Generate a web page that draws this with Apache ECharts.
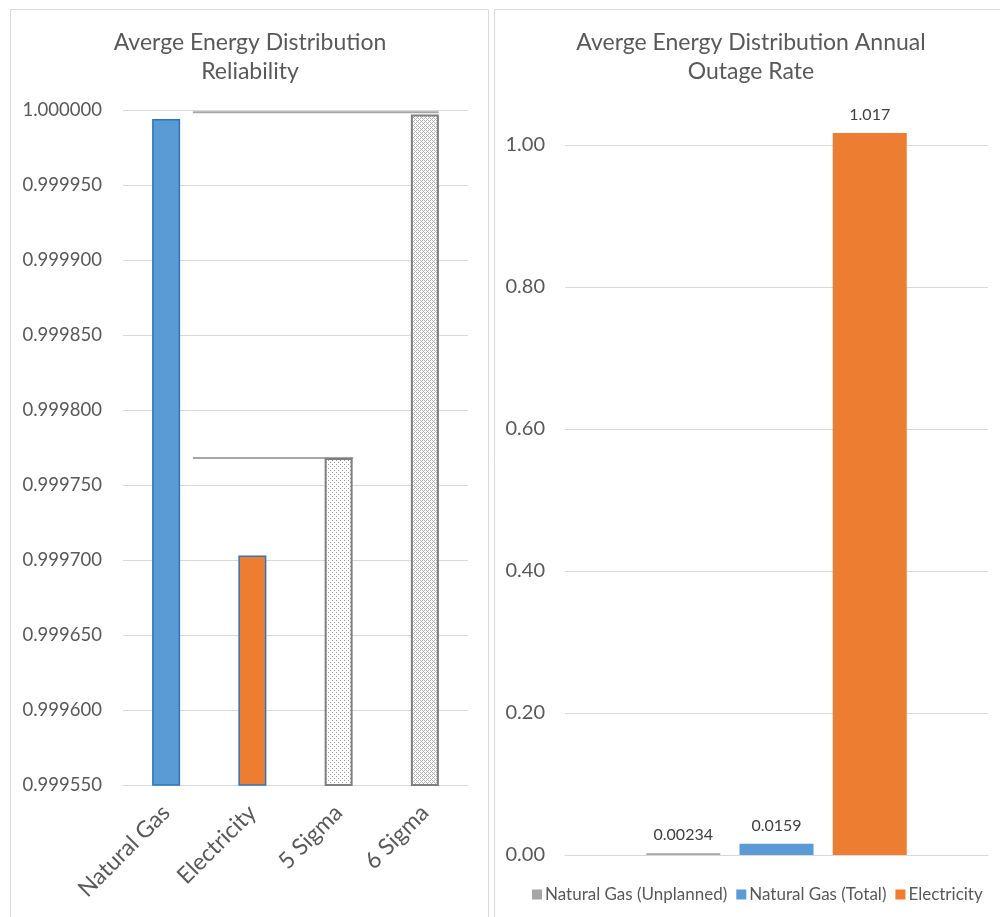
<!DOCTYPE html>
<html>
<head>
<meta charset="utf-8">
<script src="https://cdn.jsdelivr.net/npm/echarts@6/dist/echarts.min.js"></script>
<style>
  html, body { margin: 0; padding: 0; background: #fff; }
  #chart { width: 1000px; height: 917px; }
</style>
</head>
<body>
<div id="chart"></div>
<script>
// left panel: reliability
const reliabilityCategories = ['Natural Gas', 'Electricity', '5 Sigma', '6 Sigma']
const reliabilityValues = [0.999994, 0.999703, 0.999768, 0.999997]
// horizontal reference lines, x extents in category units (0..4)
const sigmaLineValues = [0.9999985, 0.999768]
const sigmaLineStarts = [0.81, 0.81]
const sigmaLineEnds = [3.66, 2.67]

// right panel: annual outage rate
const outageSeries = ['Natural Gas (Unplanned)', 'Natural Gas (Total)', 'Electricity']
const outageValues = [0.00234, 0.0159, 1.017]
const outageColors = ['#A5A5A5', '#5B9BD5', '#ED7D31']

const FONT = 'Lato, "Open Sans", sans-serif'
const TEXT = '#595959'
const GRID_LINE = '#D9D9D9'

function dotPattern(size, dots, color) {
  const c = document.createElement('canvas')
  c.width = size
  c.height = size
  const ctx = c.getContext('2d')
  ctx.fillStyle = '#fff'
  ctx.fillRect(0, 0, size, size)
  ctx.fillStyle = color
  dots.forEach(([x, y]) => ctx.fillRect(x, y, 1, 1))
  return c
}

const sparseDots = dotPattern(4, [[0, 0], [2, 2]], '#9a9a9a')
const denseDots = dotPattern(4, [[0, 0], [2, 0], [1, 1], [0, 2], [2, 2], [3, 3]], '#b4b4b4')

const barStyles = [
  { color: '#5B9BD5', borderColor: '#2E75B6', borderWidth: 1.5 },
  { color: '#ED7D31', borderColor: '#2E75B6', borderWidth: 1.5 },
  { color: { image: sparseDots, repeat: 'repeat' }, borderColor: '#7F7F7F', borderWidth: 2 },
  { color: { image: denseDots, repeat: 'repeat' }, borderColor: '#7F7F7F', borderWidth: 2 },
]

const chart = echarts.init(document.getElementById('chart'), undefined, { renderer: 'canvas' })

const titleStyle = { color: TEXT, fontSize: 23, fontWeight: 'normal', fontFamily: FONT, lineHeight: 29 }

const sigmaLines = sigmaLineValues.map((v, i) => ({
  type: 'line',
  xAxisIndex: 1,
  yAxisIndex: 0,
  data: [[sigmaLineStarts[i], v], [sigmaLineEnds[i], v]],
  symbol: 'none',
  silent: true,
  lineStyle: { color: '#A6A6A6', width: 2 },
  z: 1,
}))

const option = {
  backgroundColor: '#fff',
  animation: false,
  graphic: [
    { type: 'rect', shape: { x: 10.5, y: 9.5, width: 478, height: 1000 }, style: { fill: 'none', stroke: GRID_LINE, lineWidth: 1 } },
    { type: 'rect', shape: { x: 494.5, y: 9.5, width: 520, height: 1000 }, style: { fill: 'none', stroke: GRID_LINE, lineWidth: 1 } },
  ],
  title: [
    { text: 'Averge Energy Distribution\nReliability', left: 245, top: 23, textAlign: 'center', textStyle: titleStyle },
    { text: 'Averge Energy Distribution Annual\nOutage Rate', left: 746, top: 23, textAlign: 'center', textStyle: titleStyle },
  ],
  legend: {
    data: outageSeries,
    left: 527,
    top: 881,
    icon: 'rect',
    itemWidth: 10,
    itemHeight: 10,
    itemGap: 9,
    textStyle: { color: TEXT, fontSize: 17, fontFamily: FONT, padding: [0, 0, 0, -2] },
  },
  grid: [
    { left: 123, top: 110, width: 345, height: 675 },
    { left: 565, top: 145, width: 423, height: 710 },
  ],
  xAxis: [
    {
      type: 'category',
      gridIndex: 0,
      data: reliabilityCategories,
      axisLine: { lineStyle: { color: GRID_LINE } },
      axisTick: { show: false },
      axisLabel: { rotate: 45, color: TEXT, fontSize: 23, fontFamily: FONT, margin: 24, interval: 0 },
    },
    { type: 'value', gridIndex: 0, min: 0, max: 4, show: false },
    {
      type: 'category',
      gridIndex: 1,
      data: [''],
      axisLine: { lineStyle: { color: GRID_LINE } },
      axisTick: { show: false },
      axisLabel: { show: false },
    },
  ],
  yAxis: [
    {
      type: 'value',
      gridIndex: 0,
      min: 0.99955,
      max: 1.0,
      interval: 0.00005,
      axisLine: { show: false },
      axisTick: { show: false },
      splitLine: { lineStyle: { color: GRID_LINE } },
      axisLabel: { color: TEXT, fontSize: 18.5, fontFamily: FONT, margin: 21, formatter: v => v.toFixed(6) },
    },
    {
      type: 'value',
      gridIndex: 1,
      min: 0,
      max: 1,
      interval: 0.2,
      axisLine: { show: false },
      axisTick: { show: false },
      splitLine: { lineStyle: { color: GRID_LINE } },
      axisLabel: { color: TEXT, fontSize: 20, fontFamily: FONT, margin: 20, formatter: v => v.toFixed(2) },
    },
  ],
  series: [
    {
      type: 'bar',
      xAxisIndex: 0,
      yAxisIndex: 0,
      barWidth: 28,
      data: reliabilityValues.map((v, i) => ({ value: v, itemStyle: barStyles[i] })),
      z: 2,
    },
    ...sigmaLines,
    ...outageSeries.map((name, i) => ({
      name,
      type: 'bar',
      xAxisIndex: 2,
      yAxisIndex: 1,
      barWidth: 74,
      barGap: '26%',
      clip: false,
      data: [outageValues[i]],
      itemStyle: { color: outageColors[i] },
      label: { show: true, position: 'top', distance: 10, color: '#404040', fontSize: 16, fontFamily: FONT },
    })),
  ],
}

chart.setOption(option)
</script>
</body>
</html>
